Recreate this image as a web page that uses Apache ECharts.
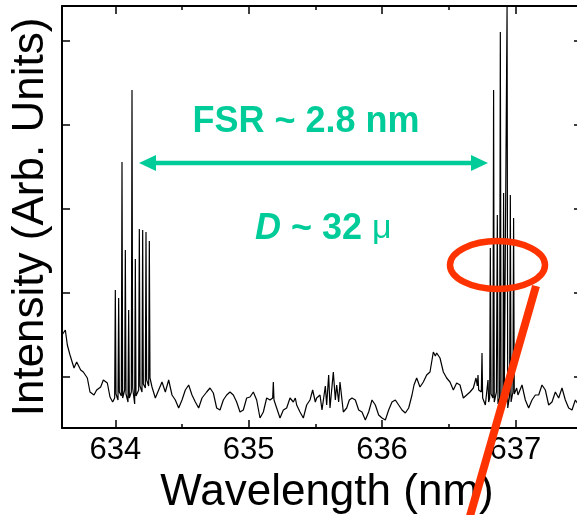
<!DOCTYPE html>
<html>
<head>
<meta charset="utf-8">
<script src="https://cdn.jsdelivr.net/npm/echarts@6/dist/echarts.min.js"></script>
<style>html,body{margin:0;padding:0;background:#fff;}#c{width:577px;height:515px;}</style>
</head>
<body>
<div id="c"></div>
<script>
// Wavelength (nm) and intensity (arb. units)
const wavelength = [
633.600,633.625,633.640,633.660,633.690,633.710,633.740,633.760,633.790,633.810,
633.840,633.860,633.890,633.910,633.940,633.960,633.980,
633.995,634.000,634.005,634.020,634.025,634.030,634.045,634.050,634.055,
634.070,634.075,634.080,634.095,634.100,634.105,634.120,634.125,634.130,
634.145,634.150,634.155,634.175,634.180,634.185,634.200,634.205,634.210,
634.225,634.230,634.235,634.250,634.255,634.260,
634.275,634.300,634.325,634.350,634.375,634.400,634.425,634.450,634.475,634.500,
634.525,634.550,634.575,634.600,634.625,634.650,634.685,634.710,634.735,634.760,
634.785,634.810,634.835,634.860,634.885,634.910,634.935,634.960,634.985,635.010,
635.035,635.060,635.085,635.110,635.135,635.160,635.180,635.185,635.190,635.210,
635.235,635.260,635.285,635.310,635.335,635.350,635.360,635.385,635.410,635.435,
635.460,635.480,635.500,635.510,635.535,635.550,635.575,635.585,635.600,635.610,
635.635,635.650,635.660,635.675,635.685,635.710,635.735,635.755,635.775,635.800,
635.825,635.850,635.875,635.900,635.925,635.950,635.975,636.000,636.025,636.050,
636.075,636.100,636.125,636.150,636.175,636.200,636.225,636.240,636.260,636.285,
636.310,636.335,636.360,636.385,636.400,636.410,636.435,636.460,636.485,636.510,
636.535,636.560,636.585,636.610,636.635,636.660,636.685,636.705,
636.715,636.720,636.725,636.745,636.750,636.755,636.765,636.775,
636.790,636.795,636.800,
636.8075,636.8125,636.818,636.832,636.837,636.842,636.858,636.865,636.870,
636.882,636.8875,636.893,636.907,636.912,636.917,636.932,636.938,636.943,
636.957,636.9625,636.968,636.982,636.987,636.992,
637.010,637.020,637.050,637.075,637.100,637.125,637.150,637.175,637.200,637.225,
637.250,637.275,637.300,637.325,637.350,637.375,637.400,637.425,637.450,637.475,637.500
];
const intensity = [
93,98,83,73,60,66,58,56,50,36,
33,38,41,48,45,31,26,
30,138,34,28,130,36,32,266,30,
38,178,34,26,118,30,36,338,40,
24,169,32,38,199,42,36,198,44,
40,196,48,42,187,50,
41,30,38,46,36,48,33,28,20,28,
38,43,33,26,20,30,36,40,35,20,
18,28,33,36,33,26,16,18,30,31,
36,28,10,16,30,28,30,46,28,20,
10,18,20,30,26,30,23,16,10,23,
28,38,26,30,33,18,42,23,53,20,
56,28,43,26,46,16,20,28,30,28,
18,16,8,16,28,23,13,10,8,18,
26,28,23,18,15,20,33,43,50,41,
46,53,56,76,72,75,70,56,50,46,
38,45,43,30,33,36,40,50,
42,53,38,36,75,30,30,23,
24,48,26,
30,180,34,30,338,26,36,213,24,
30,396,22,34,235,28,30,421,20,
32,233,26,36,210,34,
40,33,43,28,20,28,33,33,43,38,
23,26,36,30,40,28,20,18,28,23,30
];
const xMajorTicks = [634, 635, 636, 637];
const xMinorTicks = [634.5, 635.5, 636.5, 637.5];
const yTicks = [51, 135, 219, 303, 387];

const FONT = "'Liberation Sans', Arial, sans-serif";
const GREEN = '#00CC99';
const RED = '#FF3300';

const chart = echarts.init(document.getElementById('c'), null, {renderer: 'canvas'});
const frameLine = {show: true, lineStyle: {color: '#000', width: 2}};
const tickStyle = {color: '#000', width: 1.5};

const option = {
  animation: false,
  backgroundColor: '#fff',
  grid: {left: 62, top: 6, width: 520, height: 422, containLabel: false, outerBoundsMode: 'none'},
  xAxis: [
    {
      type: 'value', position: 'bottom', min: 633.6, max: 637.5,
      axisLine: frameLine,
      axisTick: {show: true, inside: true, length: 8, lineStyle: tickStyle, customValues: xMajorTicks},
      axisLabel: {show: true, customValues: xMajorTicks, fontSize: 31, color: '#000', fontFamily: FONT, margin: 7},
      splitLine: {show: false},
      name: 'Wavelength (nm)', nameLocation: 'middle', nameGap: 40,
      nameTextStyle: {fontSize: 44, color: '#000', fontFamily: FONT, padding: [0, 0, 0, 10]}
    },
    {
      type: 'value', position: 'bottom', min: 633.6, max: 637.5,
      axisLine: {show: false},
      axisTick: {show: true, inside: true, length: 4, lineStyle: tickStyle, customValues: xMinorTicks},
      axisLabel: {show: false}, splitLine: {show: false}
    },
    {
      type: 'value', position: 'top', min: 633.6, max: 637.5,
      axisLine: frameLine,
      axisTick: {show: true, inside: true, length: 8, lineStyle: tickStyle, customValues: xMajorTicks},
      axisLabel: {show: false}, splitLine: {show: false}
    },
    {
      type: 'value', position: 'top', min: 633.6, max: 637.5,
      axisLine: {show: false},
      axisTick: {show: true, inside: true, length: 4, lineStyle: tickStyle, customValues: xMinorTicks},
      axisLabel: {show: false}, splitLine: {show: false}
    }
  ],
  yAxis: [
    {
      type: 'value', position: 'left', min: 0, max: 422,
      axisLine: frameLine,
      axisTick: {show: true, inside: true, length: 8, lineStyle: tickStyle, customValues: yTicks},
      axisLabel: {show: false}, splitLine: {show: false},
      name: 'Intensity (Arb. Units)', nameLocation: 'middle', nameGap: 9, nameRotate: 90,
      nameTextStyle: {fontSize: 44, color: '#000', fontFamily: FONT}
    },
    {
      type: 'value', position: 'right', min: 0, max: 422,
      axisLine: frameLine,
      axisTick: {show: true, inside: true, length: 8, lineStyle: tickStyle, customValues: yTicks},
      axisLabel: {show: false}, splitLine: {show: false}
    }
  ],
  series: [{
    type: 'line',
    xAxisIndex: 0, yAxisIndex: 0,
    data: wavelength.map((w, i) => [w, intensity[i]]),
    showSymbol: false, symbol: 'none',
    lineStyle: {color: '#000', width: 1.2},
    z: 2
  }],
  graphic: [
    {type: 'line', shape: {x1: 153, y1: 163, x2: 474, y2: 163}, style: {stroke: GREEN, lineWidth: 4.5}, z: 10},
    {type: 'polygon', shape: {points: [[139, 163], [156, 155], [156, 171]]}, style: {fill: GREEN}, z: 10},
    {type: 'polygon', shape: {points: [[488, 163], [471, 155], [471, 171]]}, style: {fill: GREEN}, z: 10},
    {type: 'text', x: 306, y: 122, z: 10,
      style: {text: 'FSR ~ 2.8 nm', fill: GREEN, font: 'bold 36px ' + FONT, textAlign: 'center', textVerticalAlign: 'middle'}},
    {type: 'text', x: 255, y: 229, z: 10,
      style: {
        text: '{d|D}{n| ~ 32 }{m|μ}', fill: GREEN, textAlign: 'left', textVerticalAlign: 'middle',
        rich: {
          d: {fontFamily: FONT, fontSize: 36, fontWeight: 'bold', fontStyle: 'italic', fill: GREEN, color: GREEN},
          n: {fontFamily: FONT, fontSize: 36, fontWeight: 'bold', fill: GREEN, color: GREEN},
          m: {fontFamily: FONT, fontSize: 34, fontWeight: 'normal', fill: GREEN, color: GREEN}
        }
      }},
    {type: 'ellipse', shape: {cx: 497.5, cy: 265, rx: 47.5, ry: 24}, style: {fill: 'none', stroke: RED, lineWidth: 6.5}, z: 11},
    {type: 'line', shape: {x1: 536, y1: 286, x2: 466, y2: 530}, style: {stroke: RED, lineWidth: 8}, z: 11}
  ]
};
chart.setOption(option);
</script>
</body>
</html>
